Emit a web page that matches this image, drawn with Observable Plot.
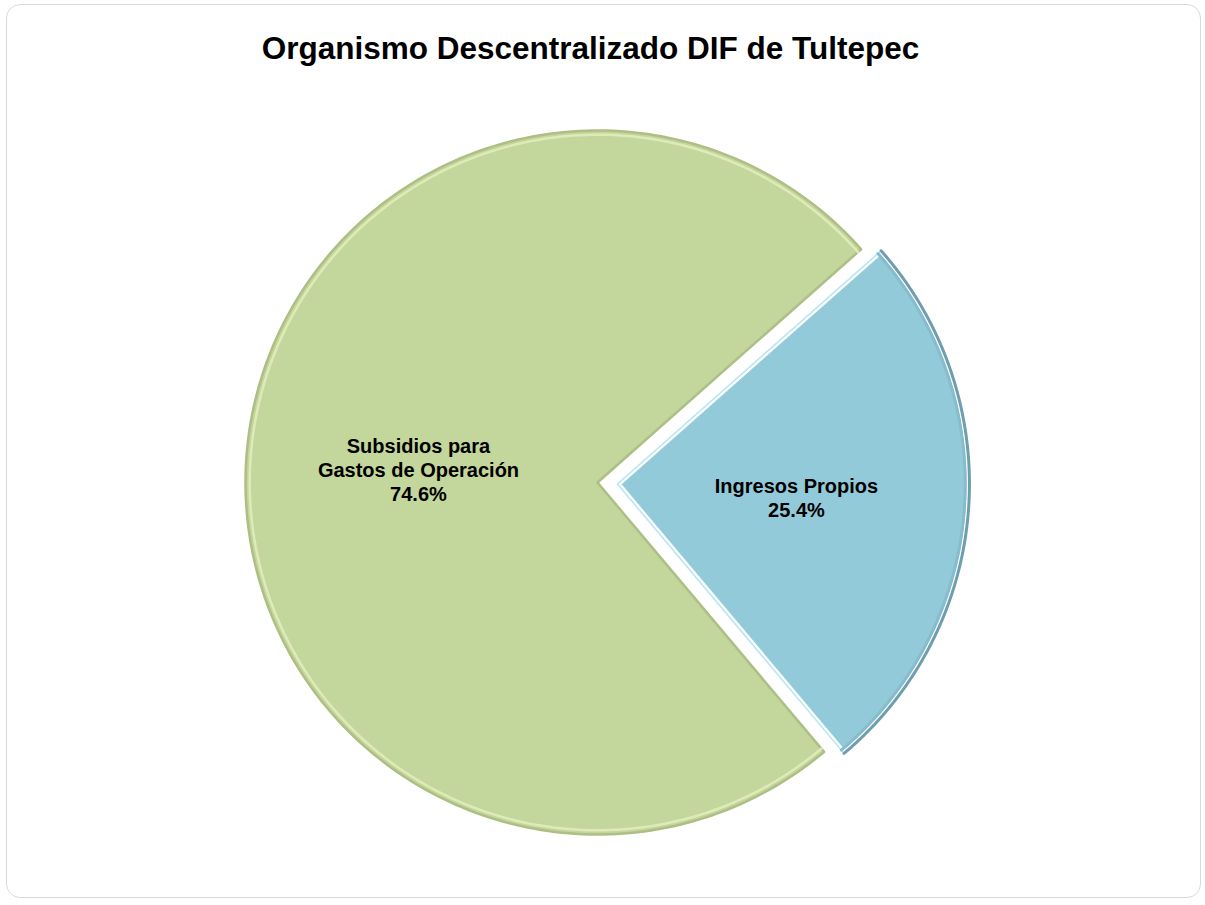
<!DOCTYPE html>
<html>
<head>
<meta charset="utf-8">
<script src="https://cdn.jsdelivr.net/npm/d3@7"></script>
<script src="https://cdn.jsdelivr.net/npm/@observablehq/plot@0.6"></script>
<style>
  html, body { margin: 0; padding: 0; background: #ffffff; }
  #wrap { position: relative; width: 1205px; height: 905px; overflow: hidden; font-family: "Liberation Sans", Arial, sans-serif; }
  #frame { position: absolute; left: 6px; top: 4px; width: 1195px; height: 894px; border: 1px solid #d9d9d9; border-radius: 14px; box-sizing: border-box; }
  #title { position: relative; height: 90px; box-sizing: border-box; padding-top: 33px; padding-right: 24px; text-align: center; font-size: 31.5px; line-height: 31px; font-weight: bold; color: #000; }
  #chart { position: relative; }
  #chart svg { display: block; }
</style>
</head>
<body>
<div id="wrap">
  <div id="frame"></div>
  <div id="title">Organismo Descentralizado DIF de Tultepec</div>
  <div id="chart"></div>
</div>
<script>
// ---- data ----
const categories = ["Ingresos Propios", "Subsidios para Gastos de Operación"];
const shares = [25.4, 74.6];
const labelText = ["Ingresos Propios", "Subsidios para\nGastos de Operación"];
const percentText = ["25.4%", "74.6%"];
const explodedPx = [20, 0];

// ---- layout ----
const W = 1205, H = 815;
const R = 352, cx = 597, cy = 392;
const startDeg = 48.5;

const pie = d3.pie().sort(null).value(d => d.share)
  .startAngle(startDeg * Math.PI / 180)
  .endAngle(startDeg * Math.PI / 180 + 2 * Math.PI);

const rows = categories.map((c, i) => ({cat: c, share: shares[i], label: labelText[i] + "\n" + percentText[i], explode: explodedPx[i] / R}));
const arcs = pie(rows);

const slicePts = [], arcPts = [], labels = [];
for (const a of arcs) {
  const mid = (a.startAngle + a.endAngle) / 2;
  const ox = a.data.explode * Math.sin(mid), oy = a.data.explode * Math.cos(mid);
  slicePts.push({cat: a.data.cat, x: ox, y: oy});
  const n = 240;
  for (let k = 0; k <= n; k++) {
    const t = a.startAngle + (a.endAngle - a.startAngle) * k / n;
    const p = {cat: a.data.cat, x: ox + Math.sin(t), y: oy + Math.cos(t)};
    slicePts.push(p);
    arcPts.push(p);
  }
  slicePts.push({cat: a.data.cat, x: ox, y: oy});
  labels.push({cat: a.data.cat, label: a.data.label, x: ox + 0.51 * Math.sin(mid), y: oy + 0.51 * Math.cos(mid)});
}
const innerPts = arcPts.map(p => {
  const a = arcs.find(q => q.data.cat === p.cat);
  const mid = (a.startAngle + a.endAngle) / 2;
  const ox = a.data.explode * Math.sin(mid), oy = a.data.explode * Math.cos(mid);
  const k = 0.988;
  return {cat: p.cat, x: ox + (p.x - ox) * k, y: oy + (p.y - oy) * k};
});

const isBlue = d => d.cat === categories[0];
const isGreen = d => d.cat === categories[1];

const plot = Plot.plot({
  width: W, height: H,
  margin: 0,
  x: {domain: [-1, 1], range: [cx - R, cx + R], axis: null},
  y: {domain: [-1, 1], range: [cy + R, cy - R], axis: null},
  marks: [
    // green slice
    Plot.line(slicePts, {filter: isGreen, x: "x", y: "y", z: "cat", fill: "#c3d69b", stroke: "#aebf85", strokeWidth: 2.5, strokeLinejoin: "round"}),
    Plot.line(innerPts, {filter: isGreen, x: "x", y: "y", z: "cat", stroke: "#dfeab8", strokeWidth: 2.5}),
    // blue slice
    Plot.line(slicePts, {filter: isBlue, x: "x", y: "y", z: "cat", fill: "#93cada", stroke: "#ffffff", strokeWidth: 6, strokeLinejoin: "miter"}),
    Plot.line(slicePts, {filter: isBlue, x: "x", y: "y", z: "cat", stroke: "#b5e5f1", strokeWidth: 1.5}),
    Plot.line(arcPts, {filter: isBlue, x: "x", y: "y", z: "cat", stroke: "#6f9fae", strokeWidth: 3}),
    Plot.line(innerPts, {filter: isBlue, x: "x", y: "y", z: "cat", stroke: "#86bccc", strokeWidth: 3}),
    // labels
    Plot.text(labels, {x: "x", y: "y", text: "label", fontSize: 20, fontWeight: "bold", fill: "#000", lineHeight: 1.2, textAnchor: "middle", fontFamily: "Liberation Sans, Arial, sans-serif"})
  ]
});
document.getElementById("chart").appendChild(plot);
</script>
</body>
</html>
